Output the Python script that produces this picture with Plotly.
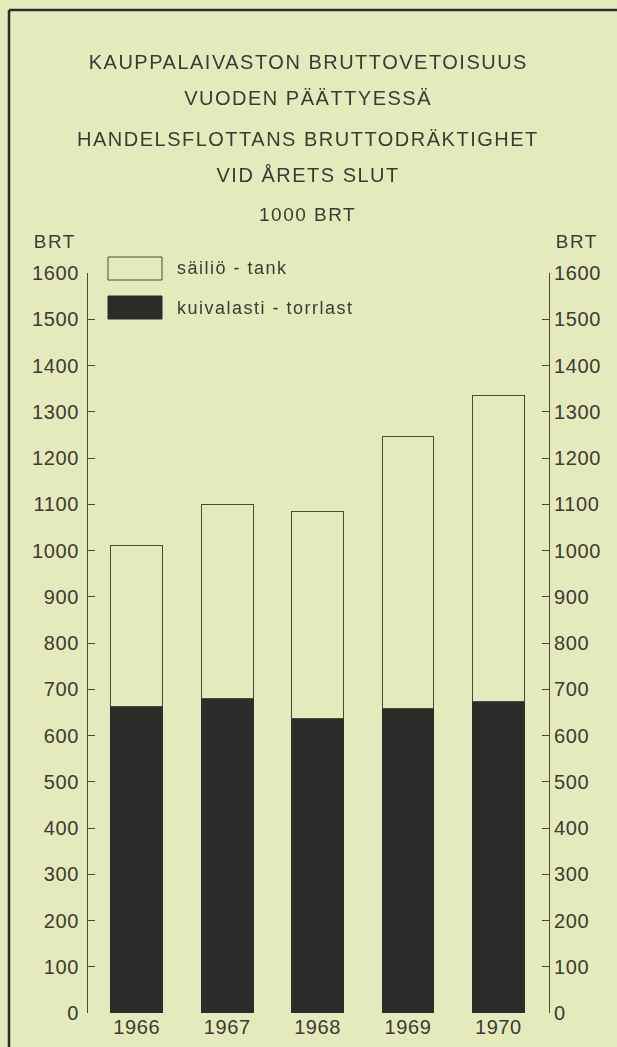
import plotly.graph_objects as go

# ---- data ----
years = ["1966", "1967", "1968", "1969", "1970"]
dry_cargo = [663, 679, 637, 659, 673]      # kuivalasti - torrlast (1000 BRT)
tanker = [348, 421, 448, 587, 663]         # säiliö - tank (1000 BRT)
series_names = ["säiliö - tank", "kuivalasti - torrlast"]
y_ticks = list(range(0, 1700, 100))
title_lines = ["KAUPPALAIVASTON BRUTTOVETOISUUS", "VUODEN PÄÄTTYESSÄ",
               "HANDELSFLOTTANS BRUTTODRÄKTIGHET", "VID ÅRETS SLUT"]
unit_label = "1000 BRT"
axis_label = "BRT"

# ---- style ----
W, H = 617, 1047
L, R, T, B = 88, 68, 273, 34
PW, PH = W - L - R, H - T - B
BG = "#e5eabc"
INK = "#3b3b32"
DARK = "#2c2c2a"
LINE = "#4a4a3c"
FONT = "Liberation Sans, Arial, sans-serif"
TICK_SIZE = 20


def px(x):
    return (x - L) / PW


def py(y):
    return (H - B - y) / PH


fig = go.Figure()
fig.add_trace(go.Bar(x=years, y=dry_cargo, name=series_names[1],
                     marker=dict(color=DARK, line=dict(color=DARK, width=1)),
                     width=0.575, showlegend=False))
fig.add_trace(go.Bar(x=years, y=tanker, name=series_names[0],
                     marker=dict(color=BG, line=dict(color=LINE, width=1)),
                     width=0.575, showlegend=False))
# invisible trace to anchor the right axis
fig.add_trace(go.Scatter(x=years, y=[a + b for a, b in zip(dry_cargo, tanker)],
                         yaxis="y2", mode="markers", opacity=0,
                         hoverinfo="skip", showlegend=False))

axis_common = dict(range=[0, 1600], tickvals=y_ticks, ticks="inside", ticklen=7,
                   tickcolor=LINE, tickwidth=1, showline=True, linecolor=LINE,
                   linewidth=1, showgrid=False, zeroline=False,
                   tickfont=dict(family=FONT, size=TICK_SIZE, color=INK))

fig.update_layout(
    width=W, height=H, margin=dict(l=L, r=R, t=T, b=B, autoexpand=False),
    paper_bgcolor=BG, plot_bgcolor=BG, barmode="stack",
    xaxis=dict(range=[-0.54, 4.56], showline=False, ticks="", showgrid=False,
               tickfont=dict(family=FONT, size=TICK_SIZE, color=INK)),
    yaxis=dict(side="left", ticklabelstandoff=4, **axis_common),
    yaxis2=dict(side="right", overlaying="y", **axis_common),
)

annotations = []
for text, yy in zip(title_lines, [62, 98, 139, 175]):
    annotations.append(dict(text=text, x=px(308), y=py(yy), xref="paper", yref="paper",
                            showarrow=False, xanchor="center", yanchor="middle",
                            font=dict(family=FONT, size=20, color=INK)))
annotations.append(dict(text=unit_label, x=px(308), y=py(214), xref="paper", yref="paper",
                        showarrow=False, xanchor="center", yanchor="middle",
                        font=dict(family=FONT, size=19, color=INK)))
for xx in (55, 577):
    annotations.append(dict(text=axis_label, x=px(xx), y=py(241), xref="paper", yref="paper",
                            showarrow=False, xanchor="center", yanchor="middle",
                            font=dict(family=FONT, size=19, color=INK)))
# legend
shapes = []
legend_fills = [BG, DARK]
for i, (name, fill) in enumerate(zip(series_names, legend_fills)):
    y0, y1 = 257 + i * 39, 280 + i * 39
    shapes.append(dict(type="rect", xref="paper", yref="paper",
                       x0=px(108), x1=px(162), y0=py(y1), y1=py(y0),
                       fillcolor=fill, line=dict(color=LINE if i == 0 else DARK, width=1)))
    annotations.append(dict(text=name, x=px(175), y=py((y0 + y1) / 2), xref="paper", yref="paper",
                            showarrow=False, xanchor="left", yanchor="middle", align="left",
                            font=dict(family=FONT, size=18, color=INK)))
# frame
shapes.append(dict(type="line", xref="paper", yref="paper", x0=px(9), x1=px(9),
                   y0=py(H + 5), y1=py(10), line=dict(color="#2e2e26", width=2.5)))
shapes.append(dict(type="line", xref="paper", yref="paper", x0=px(9), x1=px(W + 5),
                   y0=py(10), y1=py(10), line=dict(color="#2e2e26", width=2.5)))

fig.update_layout(annotations=annotations, shapes=shapes)

post = """
document.body.style.margin = '0';
document.body.style.overflow = 'hidden';
document.querySelectorAll('.annotation-text').forEach(function (t) {
  t.style.letterSpacing = '1.5px';
});
document.querySelectorAll('.xtick text, .ytick text, .y2tick text').forEach(function (t) {
  t.style.letterSpacing = '0.6px';
});
"""
fig.write_html("out.html", post_script=post, config={"displayModeBar": False})
